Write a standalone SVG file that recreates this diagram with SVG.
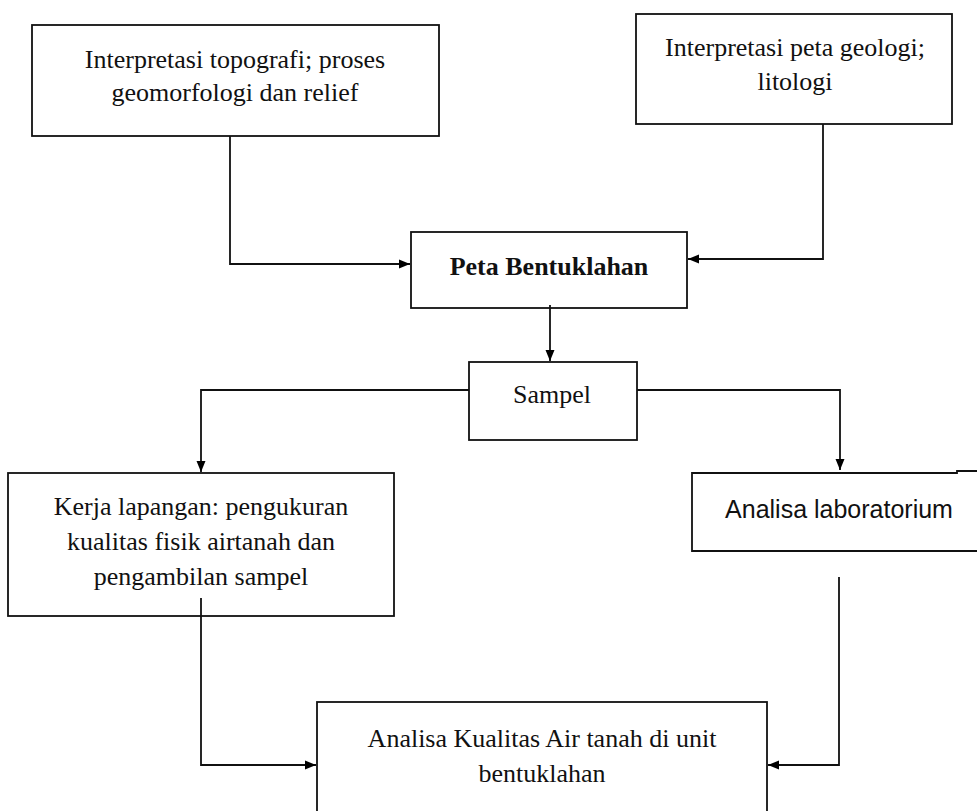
<svg xmlns="http://www.w3.org/2000/svg" width="977" height="811" viewBox="0 0 977 811">
<defs>
<style>
.box{fill:#fff;stroke:#111;stroke-width:1.8}
.t{font-family:"Liberation Serif","Times New Roman",serif;font-size:26px;fill:#111;text-anchor:middle}
.b{font-weight:bold;font-size:26px}
.s{font-family:"Liberation Sans",Arial,sans-serif;font-size:25px;fill:#111;text-anchor:middle}
.c{fill:none;stroke:#111;stroke-width:1.8}
</style>
<marker id="ah" markerUnits="userSpaceOnUse" markerWidth="12" markerHeight="10" refX="11" refY="5" orient="auto">
<path d="M0,0.5 L11,5 L0,9.5 z" fill="#000"/>
</marker>
</defs>
<rect width="977" height="811" fill="#fff"/>
<g id="node-topografi">
<rect class="box" x="32" y="25" width="407" height="111"/>
<text class="t" x="235" y="68">Interpretasi topografi; proses</text>
<text class="t" x="235" y="101">geomorfologi dan relief</text>
</g>
<g id="node-geologi">
<rect class="box" x="636" y="14" width="316" height="110"/>
<text class="t" x="795" y="56">Interpretasi peta geologi;</text>
<text class="t" x="795" y="90">litologi</text>
</g>
<g id="node-peta">
<rect class="box" x="411" y="232" width="276" height="76"/>
<text class="t b" x="549" y="275">Peta Bentuklahan</text>
</g>
<g id="node-sampel">
<rect class="box" x="469" y="362" width="168" height="78"/>
<text class="t" x="552" y="403">Sampel</text>
</g>
<g id="node-kerja">
<rect class="box" x="8" y="473" width="386" height="143"/>
<text class="t" x="201" y="515">Kerja lapangan: pengukuran</text>
<text class="t" x="201" y="550">kualitas fisik airtanah dan</text>
<text class="t" x="201" y="585">pengambilan sampel</text>
</g>
<g id="node-lab">
<path d="M977,471 H957 V473 H692 V551 H977 V471 z" fill="#fff" stroke="none"/>
<path class="c" d="M977,471 H957 V473 H692 V551 H977"/>
<text class="s" x="839" y="518">Analisa laboratorium</text>
</g>
<g id="node-analisa">
<rect class="box" x="317" y="702" width="450" height="120"/>
<text class="t" x="542" y="747">Analisa Kualitas Air tanah di unit</text>
<text class="t" x="542" y="782">bentuklahan</text>
</g>
<g id="connectors">
<path class="c" d="M230,136 V264 H410" marker-end="url(#ah)"/>
<path class="c" d="M823,124 V259 H688" marker-end="url(#ah)"/>
<path class="c" d="M550,305 V361" marker-end="url(#ah)"/>
<path class="c" d="M469,390 H201 V472" marker-end="url(#ah)"/>
<path class="c" d="M637,390 H840 V470" marker-end="url(#ah)"/>
<path class="c" d="M201,598 V765 H316" marker-end="url(#ah)"/>
<path class="c" d="M839,577 V765 H768" marker-end="url(#ah)"/>
</g>
</svg>
